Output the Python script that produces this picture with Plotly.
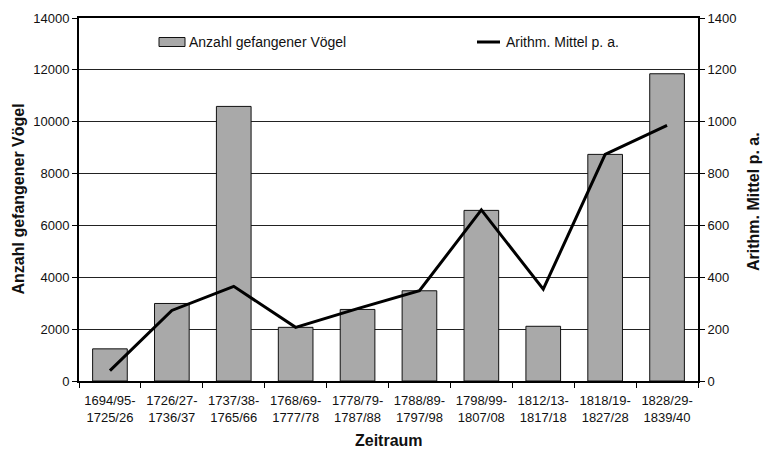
import plotly.graph_objects as go

categories = ["1694/95-<br>1725/26", "1726/27-<br>1736/37", "1737/38-<br>1765/66",
              "1768/69-<br>1777/78", "1778/79-<br>1787/88", "1788/89-<br>1797/98",
              "1798/99-<br>1807/08", "1812/13-<br>1817/18", "1818/19-<br>1827/28",
              "1828/29-<br>1839/40"]
birds = [1240, 2990, 10590, 2070, 2760, 3480, 6580, 2110, 8740, 11850]
mean_pa = [40, 272, 365, 207, 279, 348, 660, 354, 874, 986]

bar_name = "Anzahl gefangener Vögel"
line_name = "Arithm. Mittel p. a."
x_title = "Zeitraum"

FONT = "Liberation Sans, Arial, sans-serif"

fig = go.Figure()
fig.add_trace(go.Bar(x=categories, y=birds, name=bar_name,
                     marker=dict(color="#a9a9a9", line=dict(color="#111", width=1)),
                     width=0.56, showlegend=False))
fig.add_trace(go.Scatter(x=categories, y=mean_pa, name=line_name, yaxis="y2",
                         mode="lines", line=dict(color="black", width=3),
                         showlegend=False))

L, R, T, B = 79, 66, 18, 69
W, H = 764, 450
pw, ph = W - L - R, H - T - B

def px(x):
    return (x - L) / pw

def py(y):
    return (H - B - y) / ph

shapes = [
    dict(type="rect", xref="paper", yref="paper", x0=px(159), x1=px(185), y0=py(46.5), y1=py(37.5),
         fillcolor="#a9a9a9", line=dict(color="#111", width=1)),
    dict(type="line", xref="paper", yref="paper", x0=px(477), x1=px(500), y0=py(42), y1=py(42),
         line=dict(color="black", width=3)),
]
annotations = [
    dict(text=bar_name, xref="paper", yref="paper", x=px(187), y=py(42), xanchor="left",
         yanchor="middle", showarrow=False, font=dict(size=14, color="#111", family=FONT)),
    dict(text=line_name, xref="paper", yref="paper", x=px(504), y=py(42), xanchor="left",
         yanchor="middle", showarrow=False, font=dict(size=14, color="#111", family=FONT)),
    dict(text="<b>" + bar_name + "</b>", xref="paper", yref="paper", x=px(18), y=py(199.5),
         xanchor="center", yanchor="middle", textangle=-90, showarrow=False,
         font=dict(size=16, color="#111", family=FONT)),
    dict(text="<b>" + line_name + "</b>", xref="paper", yref="paper", x=px(753), y=py(202),
         xanchor="center", yanchor="middle", textangle=-90, showarrow=False,
         font=dict(size=16, color="#111", family=FONT)),
    dict(text="<b>" + x_title + "</b>", xref="paper", yref="paper", x=px(389), y=py(440),
         xanchor="center", yanchor="middle", showarrow=False,
         font=dict(size=16, color="#111", family=FONT)),
]

fig.update_layout(
    width=W, height=H,
    margin=dict(l=L, r=R, t=T, b=B, pad=0),
    paper_bgcolor="white", plot_bgcolor="white",
    font=dict(family=FONT, size=13, color="#111"),
    shapes=shapes, annotations=annotations,
    xaxis=dict(
        type="category", tickson="boundaries", ticks="outside", ticklen=5,
        tickcolor="black", showline=True, linecolor="black", linewidth=2, mirror=True,
        showgrid=False, tickfont=dict(size=13), ticklabelstandoff=6,
    ),
    yaxis=dict(
        range=[0, 14000], dtick=2000, tickformat="d", ticks="outside", ticklen=5,
        tickcolor="black", showline=True, linecolor="black", linewidth=2, showgrid=True,
        gridcolor="#222", gridwidth=1, zeroline=False, tickfont=dict(size=13),
    ),
    yaxis2=dict(
        range=[0, 1400], dtick=200, tickformat="d", overlaying="y", side="right",
        ticks="outside", ticklen=5, tickcolor="black", showline=True, linecolor="black",
        linewidth=2, showgrid=False, zeroline=False, tickfont=dict(size=13),
    ),
)

fig.write_html("out.html", config={"displayModeBar": False},
               post_script="document.body.style.margin='0';document.body.style.overflow='hidden';")
